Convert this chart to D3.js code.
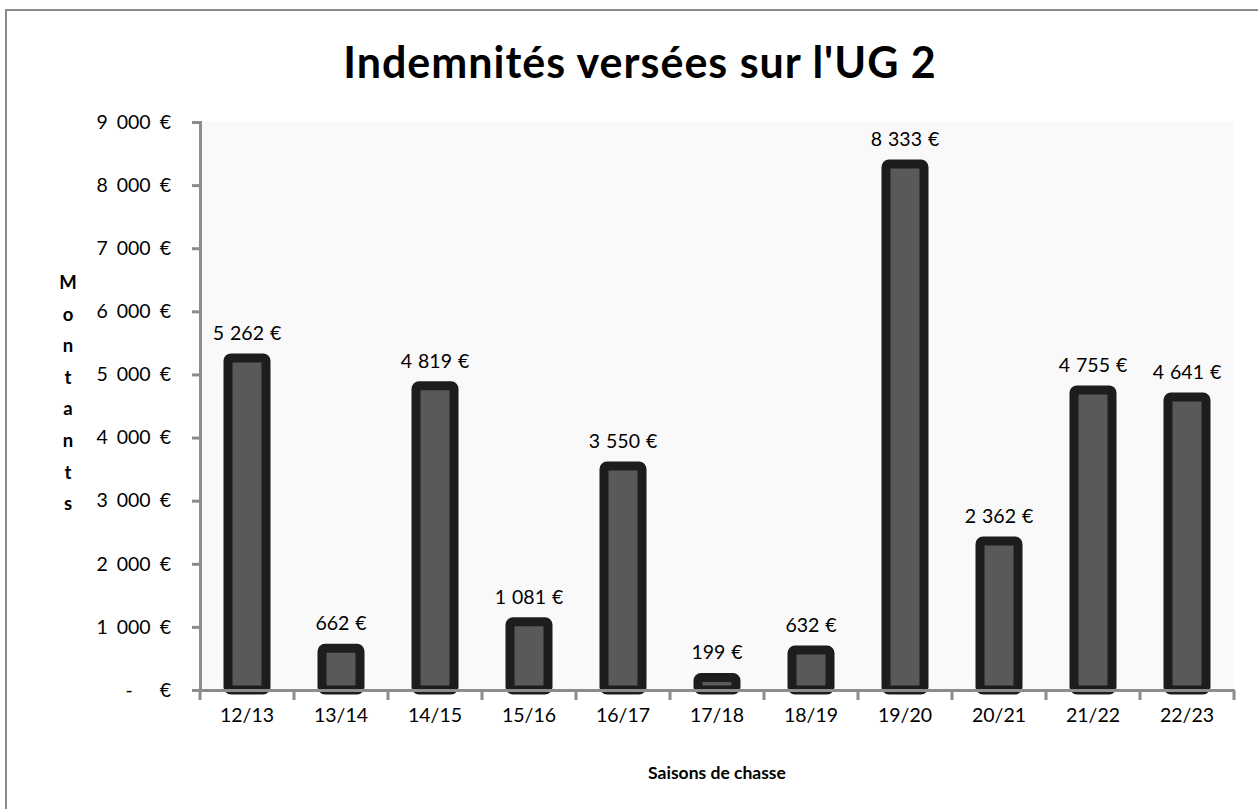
<!DOCTYPE html>
<html>
<head>
<meta charset="utf-8">
<script src="https://cdn.jsdelivr.net/npm/d3@7"></script>
<style>
body{margin:0;background:#fff;}
text{font-family:Lato,"Open Sans",sans-serif;fill:#000;}
</style>
</head>
<body>
<svg width="1258" height="809"></svg>
<script>
var saisons=["12/13","13/14","14/15","15/16","16/17","17/18","18/19","19/20","20/21","21/22","22/23"];
var montants=[5262,662,4819,1081,3550,199,632,8333,2362,4755,4641];
var yTicks=[0,1000,2000,3000,4000,5000,6000,7000,8000,9000];

var svg=d3.select("svg");
var pLeft=200, pRight=1234, pTop=122, pBottom=690;

function euro(v){
  if(v===0) return "-\u00a0\u00a0\u00a0€";
  return d3.format(",")(v).replace(/,/g,"\u00a0")+"\u00a0€";
}

// cadre
svg.append("path")
.attr("d","M6,810 L6,10 L1258,10")
.attr("fill","none").attr("stroke","#898989").attr("stroke-width",2);

svg.append("text")
.attr("x",640).attr("y",78)
.attr("text-anchor","middle")
.attr("font-size","43px").attr("font-weight","bold")
.style("letter-spacing","1px")
.text("Indemnités versées sur l'UG 2");

var x=d3.scaleBand().domain(saisons).range([pLeft,pRight]);
var y=d3.scaleLinear().domain([0,9000]).range([pBottom,pTop]);

svg.append("rect")
.attr("x",pLeft).attr("y",pTop)
.attr("width",pRight-pLeft).attr("height",pBottom-pTop)
.attr("fill","#f9f9f9");

// barres
var bw=38;
svg.selectAll(".bar")
.data(montants)
.enter().append("rect")
.attr("class","bar")
.attr("x",function(d,i){return x(saisons[i])+x.bandwidth()/2-bw/2;})
.attr("y",function(d){return y(d);})
.attr("width",bw)
.attr("height",function(d){return pBottom-y(d);})
.attr("rx",3)
.attr("fill","#595959")
.attr("stroke","#1d1d1d")
.attr("stroke-width",9);

// etiquettes
svg.selectAll(".lab")
.data(montants)
.enter().append("text")
.attr("class","lab")
.attr("x",function(d,i){return x(saisons[i])+x.bandwidth()/2;})
.attr("y",function(d){return y(d)-18;})
.attr("text-anchor","middle")
.attr("font-size","19.5px")
.style("word-spacing","1px")
.text(function(d){return euro(d);});

// axe y
var ay=svg.append("g")
.attr("transform","translate("+pLeft+",0)")
.call(d3.axisLeft(y).tickValues(yTicks).tickFormat(euro).tickSize(8).tickPadding(21));
ay.select(".domain").attr("stroke","#8c8c8c").attr("stroke-width",3);
ay.selectAll(".tick line").attr("stroke","#8c8c8c").attr("stroke-width",3);
ay.selectAll(".tick text").attr("font-size","19.5px").style("word-spacing","4px").attr("fill","#000");

// axe x
var ax=svg.append("g")
.attr("transform","translate(0,"+pBottom+")")
.call(d3.axisBottom(x).tickSize(0).tickPadding(18));
ax.select(".domain").attr("stroke","#8c8c8c").attr("stroke-width",3);
ax.selectAll(".tick line").remove();
ax.selectAll(".tick text").attr("font-size","19.5px").attr("fill","#000");
ax.selectAll(".sep")
.data(saisons.concat(["fin"]))
.enter().append("line")
.attr("class","sep")
.attr("x1",function(d,i){return pLeft+i*x.bandwidth();})
.attr("x2",function(d,i){return pLeft+i*x.bandwidth();})
.attr("y1",0).attr("y2",10)
.attr("stroke","#8c8c8c").attr("stroke-width",3);

svg.append("text")
.attr("x",(pLeft+pRight)/2).attr("y",779)
.attr("text-anchor","middle")
.attr("font-size","17.5px").attr("font-weight","bold")
.text("Saisons de chasse");

// titre vertical
var titreY=svg.append("text")
.attr("x",68).attr("y",289)
.attr("text-anchor","middle")
.attr("font-size","18.5px").attr("font-weight","bold");
titreY.selectAll("tspan")
.data("Montants".split(""))
.enter().append("tspan")
.attr("x",68)
.attr("dy",function(d,i){return i===0?0:31.6;})
.text(function(d){return d;});
</script>
</body>
</html>
